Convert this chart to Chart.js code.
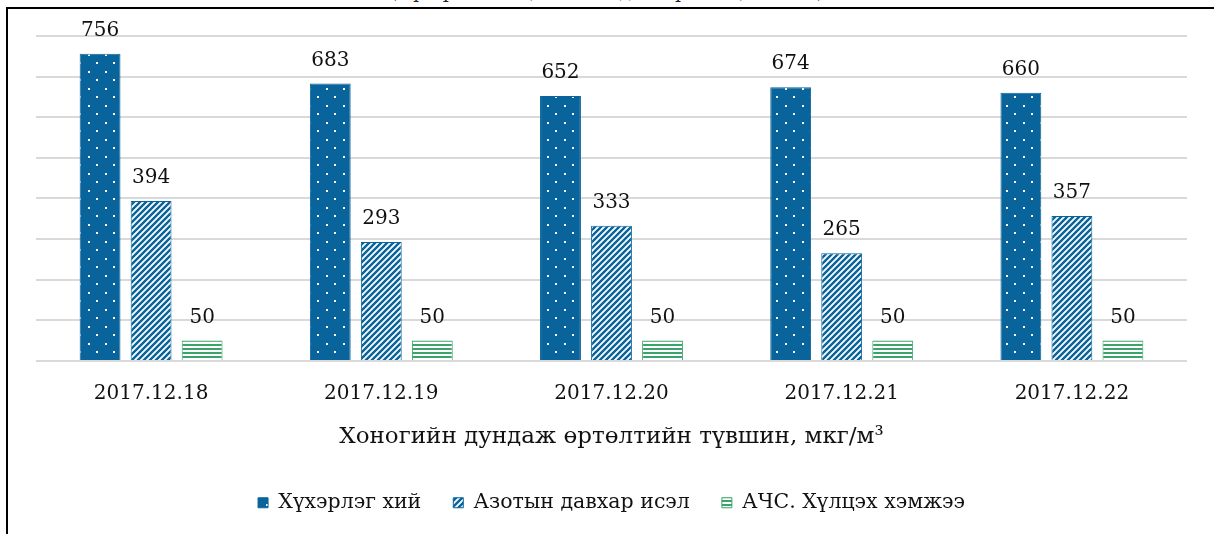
<!DOCTYPE html>
<html>
<head>
<meta charset="utf-8">
<script src="https://cdn.jsdelivr.net/npm/chart.js@4"></script>
<style>
    html, body { margin: 0; padding: 0; background: #fff; }
    #wrap { position: relative; width: 1214px; height: 534px; overflow: hidden; }
    #frame {
        position: absolute; left: 6px; top: 7px; right: -4px; bottom: -4px;
        border-left: 2px solid #000; border-top: 2px solid #000;
        pointer-events: none;
    }
    #cap {
        position: absolute; left: 0; right: 0; top: -20px; text-align: center;
        font: 19px "DejaVu Serif", serif; color: #222;
    }
    canvas { position: absolute; left: 0; top: 0; }
</style>
</head>
<body>
<div id="wrap">
    <div id="cap">(Хүхэрлэг хий, азотын давхар исэл, мкг/м³)</div>
    <canvas id="chart" width="1214" height="534"></canvas>
    <div id="frame"></div>
</div>
<script>
(function () {

    // ─────────────────────────────────────────────
    // DATA
    // ─────────────────────────────────────────────
    var dates   = ['2017.12.18', '2017.12.19', '2017.12.20', '2017.12.21', '2017.12.22'];
    var so2     = [756, 683, 652, 674, 660];
    var no2     = [394, 293, 333, 265, 357];
    var limit   = [50, 50, 50, 50, 50];
    var seriesNames = ['Хүхэрлэг хий', 'Азотын давхар исэл', 'АЧС. Хүлцэх хэмжээ'];
    var axisTitle   = 'Хоногийн дундаж өртөлтийн түвшин, мкг/м³';

    var BLUE  = '#08649A';
    var GREEN = '#3AA36A';
    var FONT  = '"DejaVu Serif", serif';

    // ─────────────────────────────────────────────
    // PATTERNS
    // ─────────────────────────────────────────────
    function makeTile(w, h, draw) {
        var c = document.createElement('canvas');
        c.width = w; c.height = h;
        draw(c.getContext('2d'), w, h);
        return document.getElementById('chart').getContext('2d').createPattern(c, 'repeat');
    }

    var dotPattern = makeTile(17, 17, function (g, w, h) {
        g.fillStyle = BLUE; g.fillRect(0, 0, w, h);
        g.fillStyle = '#fff';
        g.fillRect(3, 3, 2, 2);
        g.fillRect(11, 11, 2, 2);
    });

    var hatchPattern = makeTile(6, 6, function (g, w, h) {
        g.fillStyle = '#fff'; g.fillRect(0, 0, w, h);
        g.strokeStyle = BLUE; g.lineWidth = 2.4;
        g.beginPath();
        g.moveTo(-1, 7); g.lineTo(7, -1);
        g.moveTo(-4, 4); g.lineTo(4, -4);
        g.moveTo(2, 10); g.lineTo(10, 2);
        g.stroke();
    });

    var linePattern = makeTile(4, 4, function (g, w, h) {
        g.fillStyle = '#fff'; g.fillRect(0, 0, w, h);
        g.fillStyle = GREEN; g.fillRect(0, 0, w, 2);
    });

    // ─────────────────────────────────────────────
    // VALUE LABELS
    // ─────────────────────────────────────────────
    var valueLabels = {
        id: 'valueLabels',
        afterDatasetsDraw: function (chart) {
            var ctx = chart.ctx;
            ctx.save();
            ctx.font = '20px ' + FONT;
            ctx.fillStyle = '#111';
            ctx.textAlign = 'center';
            ctx.textBaseline = 'bottom';
            chart.data.datasets.forEach(function (ds, i) {
                chart.getDatasetMeta(i).data.forEach(function (bar, j) {
                    ctx.fillText(ds.data[j], bar.x, bar.y - 13);
                });
            });
            ctx.restore();
        }
    };

    new Chart(document.getElementById('chart').getContext('2d'), {
        type: 'bar',
        data: {
            labels: dates,
            datasets: [
                { label: seriesNames[0], data: so2,   backgroundColor: dotPattern,   borderColor: BLUE,  borderWidth: 1 },
                { label: seriesNames[1], data: no2,   backgroundColor: hatchPattern, borderColor: BLUE,  borderWidth: 1 },
                { label: seriesNames[2], data: limit, backgroundColor: linePattern,  borderColor: GREEN, borderWidth: 1 }
            ]
        },
        options: {
            responsive: false,
            animation: false,
            datasets: { bar: { categoryPercentage: 0.665, barPercentage: 0.8 } },
            layout: { padding: { top: 36, left: 36, right: 27, bottom: 11 } },
            plugins: {
                legend: {
                    position: 'bottom',
                    labels: {
                        boxWidth: 10, boxHeight: 10, padding: 32,
                        color: '#111',
                        font: { family: FONT, size: 20.5 }
                    }
                },
                tooltip: { enabled: false }
            },
            scales: {
                x: {
                    grid: { display: false },
                    border: { display: false },
                    ticks: { color: '#111', font: { family: FONT, size: 20 }, padding: 13 },
                    title: {
                        display: true, text: axisTitle, color: '#111',
                        font: { family: FONT, size: 23 }, padding: { top: 4, bottom: 10 }
                    }
                },
                y: {
                    min: 0, max: 800,
                    ticks: { stepSize: 100, display: false },
                    grid: { color: '#d9d9d9', lineWidth: 2, drawTicks: false },
                    border: { display: false }
                }
            }
        },
        plugins: [valueLabels]
    });

})();
</script>
</body>
</html>
